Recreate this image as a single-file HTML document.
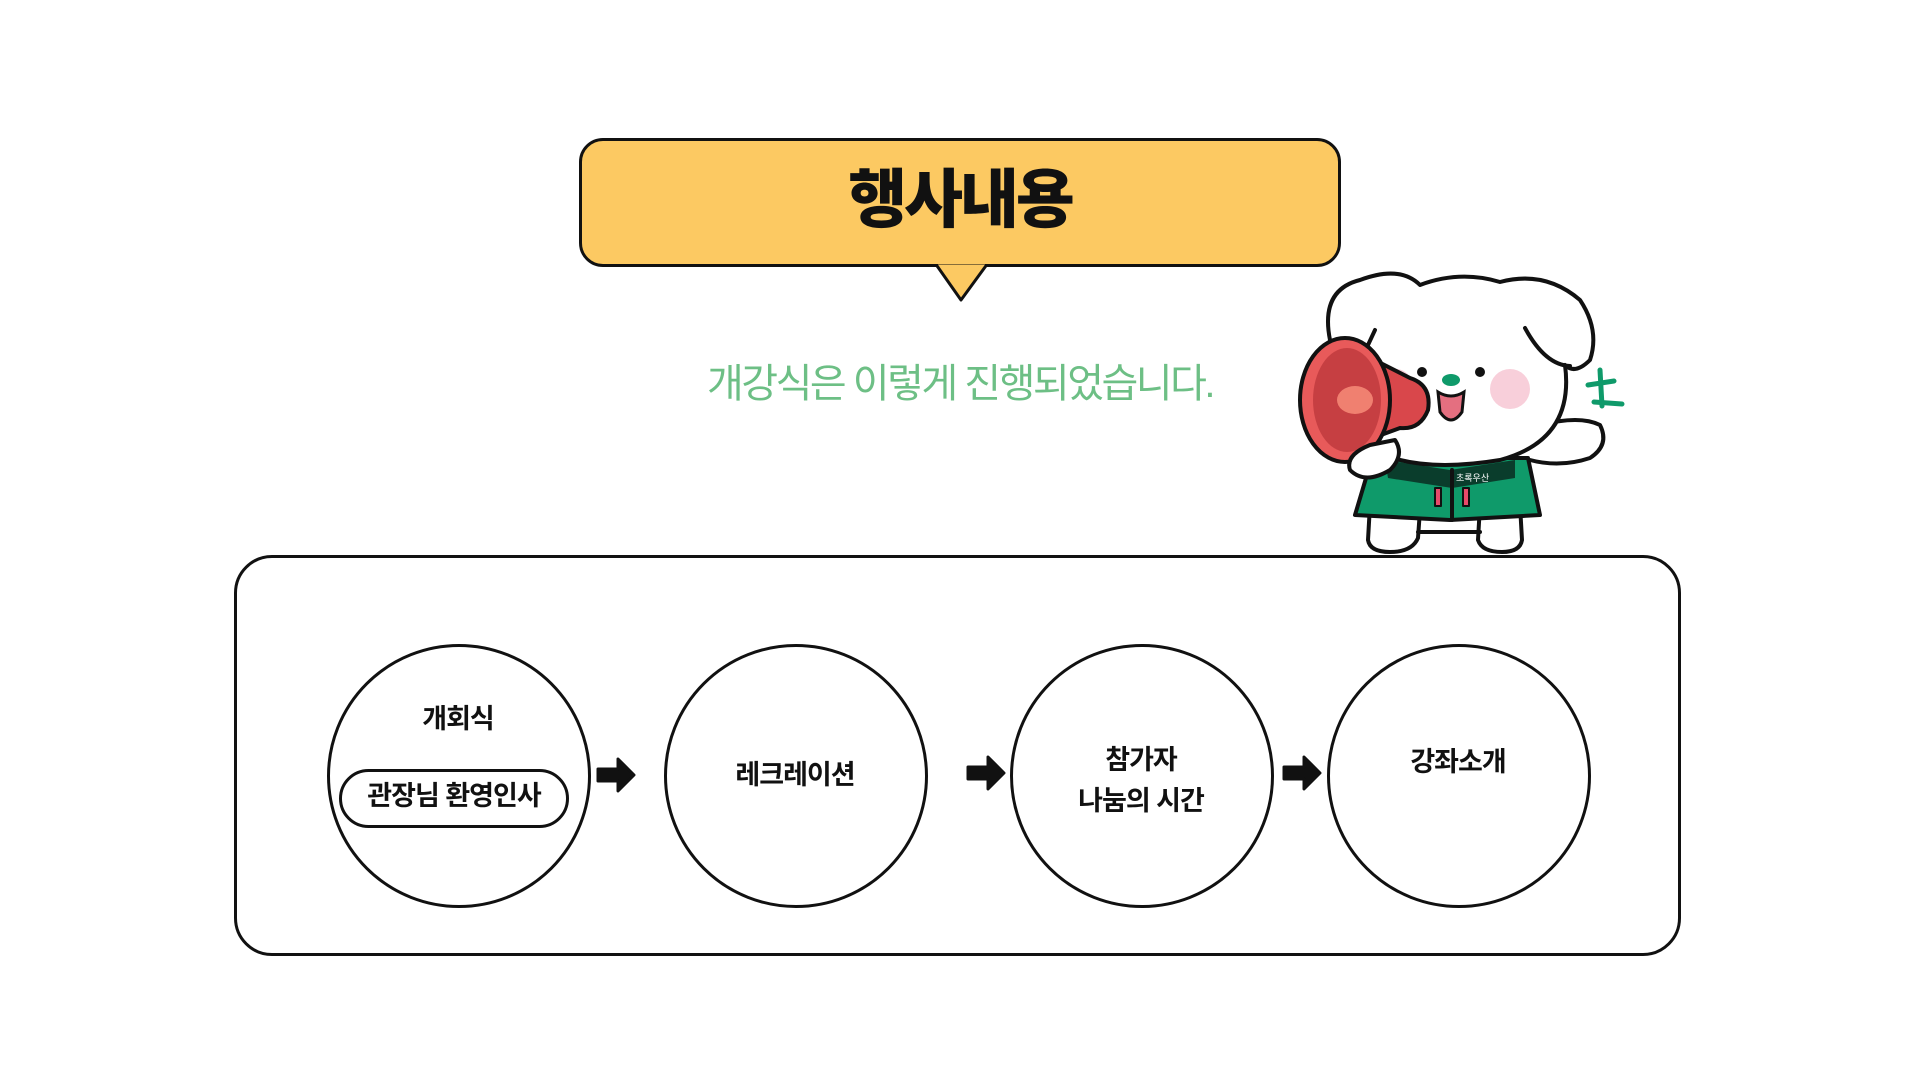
<!DOCTYPE html>
<html><head><meta charset="utf-8"><style>
html,body{margin:0;padding:0;background:#fff;}
body{width:1920px;height:1080px;position:relative;overflow:hidden;font-family:"Liberation Sans","Noto Sans CJK KR",sans-serif;}
.abs{position:absolute;}
.bubble{left:579px;top:138px;width:756px;height:123px;background:#FCC962;border:3px solid #111;border-radius:24px;}
.title{left:579px;top:158px;width:762px;text-align:center;font-size:64px;font-weight:900;color:#111;letter-spacing:-3px;line-height:84px;}
.sub{left:560px;top:358px;width:800px;text-align:center;font-size:40px;color:#6dbf85;letter-spacing:-2.5px;line-height:52px;}
.box{left:234px;top:555px;width:1441px;height:395px;border:3.5px solid #111;border-radius:38px;}
.c{width:258px;height:258px;border:3px solid #111;border-radius:50%;background:#fff;}
.t{text-align:center;font-size:27px;font-weight:bold;color:#111;letter-spacing:-1px;line-height:34px;}
.pill{left:339px;top:769px;width:224px;height:53px;border:3px solid #111;border-radius:30px;}
</style></head><body>
<div class="abs bubble"></div>
<svg class="abs" style="left:0;top:0" width="1920" height="1080">
<polygon points="935,263 988,263 961,300" fill="#FCC962" stroke="#111" stroke-width="3" stroke-linejoin="round"/>
<rect x="930" y="258" width="63" height="6" fill="#FCC962"/>
</svg>
<div class="abs title">행사내용</div>
<div class="abs sub">개강식은 이렇게 진행되었습니다.</div>
<div class="abs box"></div>

<div class="abs c" style="left:327px;top:644px"></div>
<div class="abs c" style="left:664px;top:644px"></div>
<div class="abs c" style="left:1010px;top:644px"></div>
<div class="abs c" style="left:1327px;top:644px"></div>

<div class="abs pill"></div>
<div class="abs t" style="left:358px;top:702px;width:200px">개회식</div>
<div class="abs t" style="left:339px;top:779px;width:230px">관장님 환영인사</div>
<div class="abs t" style="left:695px;top:758px;width:200px">레크레이션</div>
<div class="abs t" style="left:1041px;top:743px;width:200px">참가자</div>
<div class="abs t" style="left:1041px;top:784px;width:200px">나눔의 시간</div>
<div class="abs t" style="left:1358px;top:745px;width:200px">강좌소개</div>

<svg class="abs" style="left:0;top:0" width="1920" height="1080">
<g fill="#111">
<path d="M598,769 h20 v-10 l16,16 l-16,16 v-10 h-20 z" stroke="#111" stroke-width="3" stroke-linejoin="round"/>
<path d="M968,767 h20 v-10 l16,16 l-16,16 v-10 h-20 z" stroke="#111" stroke-width="3" stroke-linejoin="round"/>
<path d="M1284,767 h20 v-10 l16,16 l-16,16 v-10 h-20 z" stroke="#111" stroke-width="3" stroke-linejoin="round"/>
</g>
<!-- dog -->
<g stroke="#111" stroke-width="4" stroke-linejoin="round" stroke-linecap="round">
<!-- legs -->
<path d="M1370,505 L1368,540 Q1370,552 1390,552 Q1412,552 1418,538 L1420,510 Z" fill="#fff"/>
<path d="M1480,505 L1478,540 Q1482,552 1502,552 Q1520,552 1522,540 L1520,505 Z" fill="#fff"/>
<line x1="1418" y1="532" x2="1480" y2="532" stroke-width="4"/>
<!-- vest -->
<path d="M1372,458 L1355,515 L1450,520 L1540,515 L1528,458 Z" fill="#0f9a6a"/>
<path d="M1385,460 L1450,470 L1515,460 L1515,478 L1452,488 L1388,478 Z" fill="#0a3d2c" stroke="none"/>
<line x1="1452" y1="470" x2="1452" y2="520"/>
<rect x="1435" y="488" width="6" height="18" fill="#e84a6a" stroke-width="2"/>
<rect x="1463" y="488" width="6" height="18" fill="#e84a6a" stroke-width="2"/>
<!-- right arm -->
<path d="M1540,425 Q1580,415 1600,425 Q1610,445 1590,458 Q1560,468 1530,460" fill="#fff"/>
<!-- head -->
<path d="M1330,340 Q1320,290 1360,280 Q1400,265 1420,285 Q1460,270 1500,282 Q1545,270 1580,300 Q1600,330 1590,360 Q1575,375 1565,365 Q1575,440 1500,460 Q1440,470 1400,460 Q1340,440 1330,380 Z" fill="#fff"/>
<path d="M1525,328 Q1545,365 1570,366" fill="none"/>
<path d="M1375,330 L1368,345" fill="none"/>
</g>
<text x="1456" y="481" font-size="9" fill="#fff" font-family="Liberation Sans, Noto Sans CJK KR, sans-serif">초록우산</text>
<circle cx="1510" cy="389" r="20" fill="#f8cfda"/>
<circle cx="1396" cy="385" r="16" fill="#f8cfda"/>
<circle cx="1422" cy="372" r="5" fill="#111"/>
<circle cx="1480" cy="372" r="5" fill="#111"/>
<ellipse cx="1451" cy="380" rx="9" ry="6" fill="#0f9a6a"/>
<path d="M1438,392 Q1451,400 1464,392 L1462,412 Q1451,428 1440,412 Z" fill="#e46f80" stroke="#111" stroke-width="3"/>
<g stroke="#0f9a6a" stroke-width="5" stroke-linecap="round" fill="none">
<line x1="1600" y1="370" x2="1602" y2="406"/><line x1="1588" y1="385" x2="1614" y2="381"/><line x1="1594" y1="402" x2="1622" y2="404"/>
</g>
<!-- megaphone -->
<g stroke="#111" stroke-width="4" stroke-linejoin="round">
<path d="M1345,345 L1410,378 Q1432,385 1428,410 Q1420,430 1400,428 L1340,450 Z" fill="#d9474b"/>
<ellipse cx="1345" cy="400" rx="45" ry="62" fill="#e85a5a"/>
<ellipse cx="1347" cy="400" rx="34" ry="52" fill="#c63f42" stroke="none"/>
<ellipse cx="1355" cy="400" rx="18" ry="14" fill="#f08070" stroke="none"/>
<path d="M1370,445 Q1345,455 1350,470 Q1365,485 1390,470 Q1405,455 1395,440 Z" fill="#fff"/>
</g>
</svg>
</body></html>
